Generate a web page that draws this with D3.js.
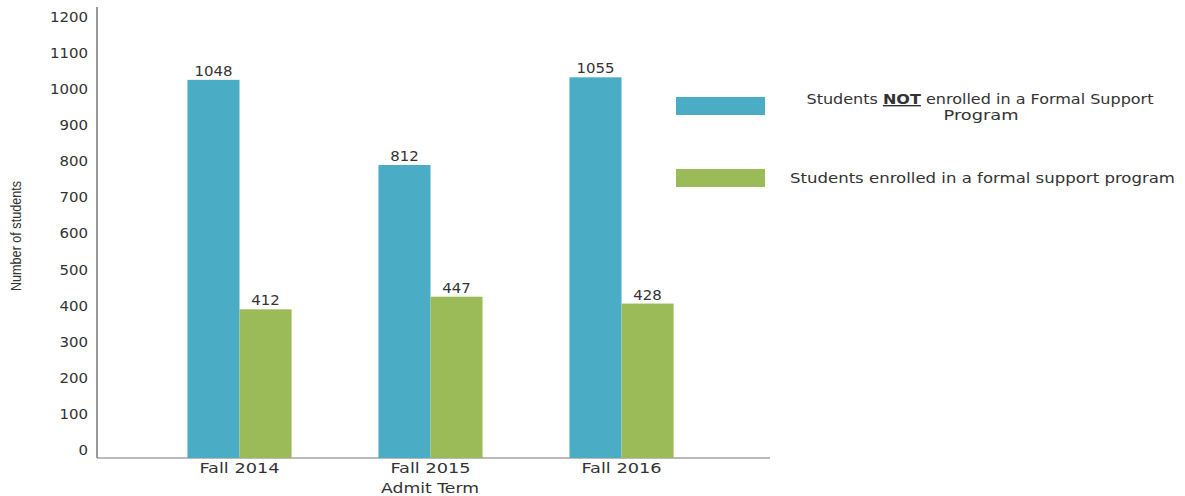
<!DOCTYPE html>
<html><head><meta charset="utf-8">
<script src="https://cdn.jsdelivr.net/npm/d3@7"></script>
<style>body{margin:0;background:#fff}svg{display:block}text{font-family:"DejaVu Sans",sans-serif;fill:#333}</style>
</head><body>
<script>
const categories = ["Fall 2014", "Fall 2015", "Fall 2016"];
const notEnrolled = [1048, 812, 1055];
const enrolled = [412, 447, 428];
const seriesNames = ["Students NOT enrolled in a Formal Support Program", "Students enrolled in a formal support program"];
const yTicks = [0,100,200,300,400,500,600,700,800,900,1000,1100,1200];
const colors = ["#4BACC6", "#9BBB59"];

const W = 1185, H = 496;
const svg = d3.select("body").append("svg").attr("width", W).attr("height", H);

const y = d3.scaleLinear().domain([0, 1200]).range([458, 25]);
const x = d3.scaleBand().domain(categories).range([144, 717]).paddingInner(0.455).paddingOuter(0.2275);
const xs = d3.scaleBand().domain([0, 1]).range([0, x.bandwidth()]);

// y tick labels (drawn slightly above their values, as in the reference)
const yAxis = d3.axisLeft(y).tickValues(yTicks).tickFormat(d3.format("d")).tickSize(0).tickPadding(0);
const gy = svg.append("g").attr("transform", "translate(88,-8)").call(yAxis);
gy.select(".domain").remove();
gy.selectAll("text").attr("font-size", 14).attr("fill", "#333").style("font-family", "DejaVu Sans")
  .attr("textLength", d => String(d).length * 9.5).attr("lengthAdjust", "spacingAndGlyphs");

// axis lines
svg.append("line").attr("x1", 97).attr("x2", 97).attr("y1", 7).attr("y2", 458).attr("stroke", "#555").attr("stroke-width", 1.2);
svg.append("line").attr("x1", 97).attr("x2", 770).attr("y1", 458).attr("y2", 458).attr("stroke", "#777").attr("stroke-width", 1.2);

const data = categories.map((c, i) => ({c, vals: [notEnrolled[i], enrolled[i]]}));
const g = svg.selectAll("g.grp").data(data).join("g").attr("class", "grp")
  .attr("transform", d => `translate(${x(d.c)},0)`);
g.selectAll("rect").data(d => d.vals.map((v, k) => ({v, k}))).join("rect")
  .attr("x", d => xs(d.k)).attr("width", xs.bandwidth())
  .attr("y", d => y(d.v)).attr("height", d => y(0) - y(d.v))
  .attr("fill", d => colors[d.k]);
g.selectAll("text.val").data(d => d.vals.map((v, k) => ({v, k}))).join("text").attr("class", "val")
  .attr("x", d => xs(d.k) + xs.bandwidth() / 2).attr("y", d => y(d.v) - 4)
  .attr("text-anchor", "middle").attr("font-size", 14)
  .attr("textLength", d => String(d.v).length * 9.5).attr("lengthAdjust", "spacingAndGlyphs").text(d => d.v);

// x labels
const xAxis = d3.axisBottom(x).tickSize(0).tickPadding(0);
const gx = svg.append("g").attr("transform", "translate(0,462)").call(xAxis);
gx.select(".domain").remove();
gx.selectAll("text").attr("font-size", 14).attr("fill", "#333").attr("dy", "0.75em").style("font-family", "DejaVu Sans")
  .attr("textLength", 80).attr("lengthAdjust", "spacingAndGlyphs");

svg.append("text").attr("x", 430).attr("y", 493).attr("text-anchor", "middle").attr("font-size", 14)
  .attr("textLength", 98).attr("lengthAdjust", "spacingAndGlyphs").text("Admit Term");
svg.append("text").attr("transform", "translate(21,236) rotate(-90)").attr("text-anchor", "middle")
  .attr("font-size", 14).attr("textLength", 110).attr("lengthAdjust", "spacingAndGlyphs")
  .style("font-family", "'Liberation Sans Narrow','Liberation Sans',sans-serif").text("Number of students");

// legend
svg.append("rect").attr("x", 676).attr("y", 97).attr("width", 89).attr("height", 18).attr("fill", colors[0]);
svg.append("rect").attr("x", 676).attr("y", 169).attr("width", 89).attr("height", 18).attr("fill", colors[1]);
const t1 = svg.append("text").attr("x", 980).attr("y", 104).attr("text-anchor", "middle").attr("font-size", 14)
  .attr("textLength", 347).attr("lengthAdjust", "spacingAndGlyphs");
t1.append("tspan").text("Students ");
t1.append("tspan").attr("font-weight", "bold").attr("text-decoration", "underline").text("NOT");
t1.append("tspan").text(" enrolled in a Formal Support");
svg.append("text").attr("x", 981).attr("y", 120).attr("text-anchor", "middle").attr("font-size", 14)
  .attr("textLength", 75).attr("lengthAdjust", "spacingAndGlyphs").text("Program");
svg.append("text").attr("x", 790).attr("y", 183).attr("font-size", 14)
  .attr("textLength", 385).attr("lengthAdjust", "spacingAndGlyphs").text(seriesNames[1]);
</script>
</body></html>
